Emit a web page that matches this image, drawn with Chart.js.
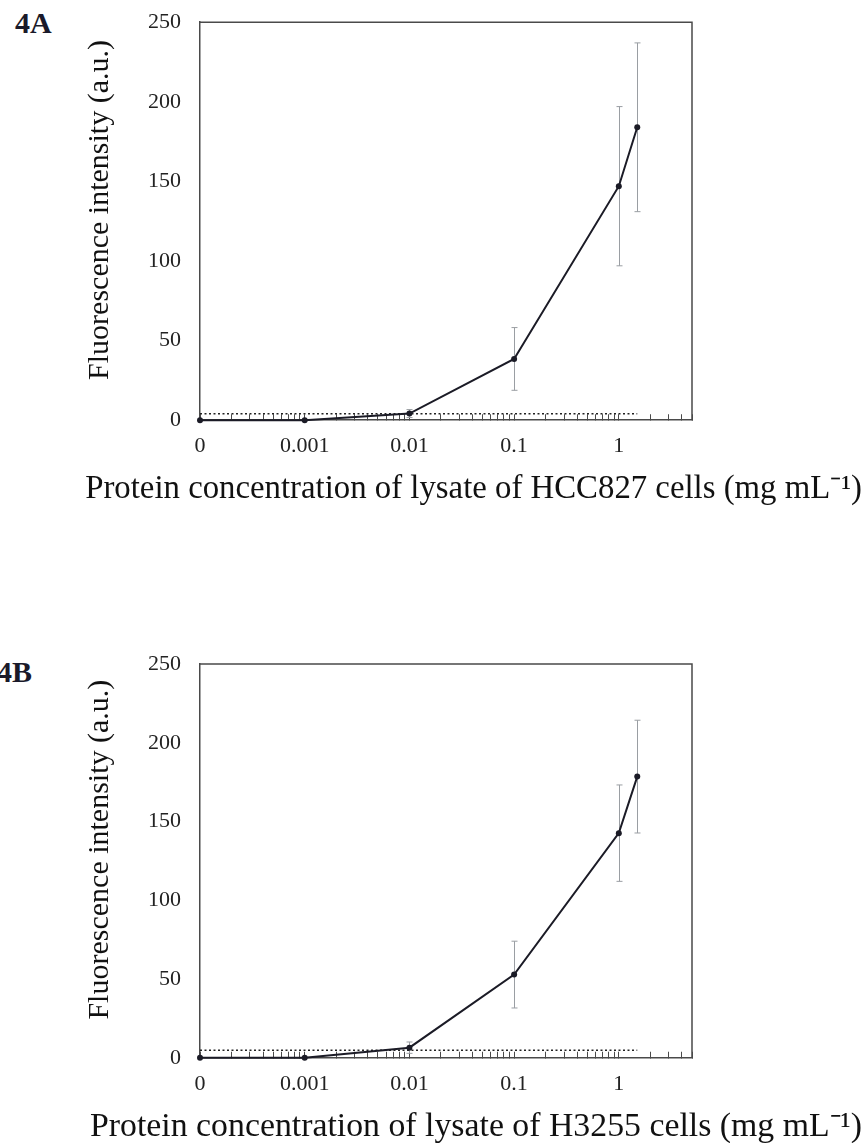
<!DOCTYPE html>
<html lang="en">
<head>
<meta charset="UTF-8">
<title>Fluorescence vs lysate concentration</title>
<script src="https://cdn.jsdelivr.net/npm/chart.js"></script>
<style>
    body {
        margin: 0;
        background: #fff;
        width: 864px;
        height: 1143px;
        position: relative;
        overflow: hidden;
        font-family: "Liberation Serif", serif;
    }
    canvas {
        position: absolute;
        left: 0;
    }
    #chartA { top: -10px; }
    #chartB { top: 590px; }
    .panel {
        position: absolute;
        font-weight: bold;
        font-size: 30px;
        line-height: 30px;
        color: #1a1a2a;
    }
</style>
</head>
<body>
<div class="panel" style="left:15px; top:8px;">4A</div>
<div class="panel" style="left:-3px; top:657px;">4B</div>
<canvas id="chartA" width="864" height="530"></canvas>
<canvas id="chartB" width="864" height="570"></canvas>

<script>
    // protein concentration (mg/mL); 0 sits at the left end of the log axis
    const concentrations = [0, 0.001, 0.01, 0.1, 1, 1.5];
    const meanA = [0, 0, 4.2, 38.5, 147, 184];
    const sdA = [0, 0, 2.5, 19.7, 50, 53];
    const limitA = 4;
    const meanB = [0, 0, 6.4, 52.8, 142.6, 178.5];
    const sdB = [0, 0, 3.6, 21.2, 30.6, 35.8];
    const limitB = 4.7;

    const xTickValues = [0.0001, 0.001, 0.01, 0.1, 1];
    const xTickLabels = ['0', '0.001', '0.01', '0.1', '1'];
    const X_MIN = 0.0001;
    const X_MAX = 5;

    // minor ticks 1..9 per decade, up to the axis end
    const xAllTicks = [];
    for (let e = -4; e <= 0; e++) {
        for (let m = 1; m <= 9; m++) {
            const v = m * Math.pow(10, e);
            if (v <= X_MAX * 1.0001) xAllTicks.push(v);
        }
    }

    const axisColor = '#4a4a4a';
    const lineColor = '#1b1b26';

    function tickLabel(v) {
        for (let i = 0; i < xTickValues.length; i++) {
            if (Math.abs(Math.log10(v) - Math.log10(xTickValues[i])) < 1e-6) return xTickLabels[i];
        }
        return '';
    }

    const errorBars = {
        id: 'errorBars',
        beforeDatasetsDraw(chart, args, opts) {
            const ctx = chart.ctx;
            const xs = chart.scales.x, ys = chart.scales.y;
            ctx.save();
            ctx.strokeStyle = '#9a9ea3';
            ctx.lineWidth = 1;
            opts.means.forEach((m, i) => {
                if (!opts.sds[i]) return;
                const c = concentrations[i] === 0 ? X_MIN : concentrations[i];
                const px = Math.round(xs.getPixelForValue(c)) + 0.5;
                const top = ys.getPixelForValue(m + opts.sds[i]);
                const bot = ys.getPixelForValue(Math.max(m - opts.sds[i], 0));
                ctx.beginPath();
                ctx.moveTo(px, top); ctx.lineTo(px, bot);
                ctx.moveTo(px - 3, top); ctx.lineTo(px + 3, top);
                ctx.moveTo(px - 3, bot); ctx.lineTo(px + 3, bot);
                ctx.stroke();
            });
            ctx.restore();
        },
        afterDraw(chart) {
            // top and right edges of the frame
            const a = chart.chartArea, ctx = chart.ctx;
            ctx.save();
            ctx.strokeStyle = axisColor;
            ctx.lineWidth = 1.5;
            ctx.beginPath();
            ctx.moveTo(a.left, a.top);
            ctx.lineTo(a.right, a.top);
            ctx.lineTo(a.right, a.bottom);
            ctx.stroke();
            ctx.restore();
        }
    };

    function makeChart(id, means, sds, limit, title, cfg) {
        const pts = concentrations.map((c, i) => ({ x: c === 0 ? X_MIN : c, y: means[i] }));
        return new Chart(document.getElementById(id), {
            type: 'line',
            data: {
                datasets: [{
                    data: pts,
                    borderColor: lineColor,
                    backgroundColor: lineColor,
                    borderWidth: 2,
                    pointRadius: 3,
                    pointBorderWidth: 0,
                    tension: 0,
                    clip: false
                }, {
                    data: [{ x: X_MIN, y: limit }, { x: concentrations[concentrations.length - 1], y: limit }],
                    borderColor: '#222',
                    borderWidth: 1.5,
                    borderDash: [2, 2.5],
                    pointRadius: 0
                }]
            },
            options: {
                responsive: false,
                animation: false,
                devicePixelRatio: 1,
                layout: { padding: { top: cfg.padTop, left: 0, right: 2, bottom: 0 } },
                plugins: {
                    legend: { display: false },
                    tooltip: { enabled: false },
                    title: {
                        display: true,
                        position: 'bottom',
                        align: 'end',
                        text: title,
                        color: '#111',
                        font: { family: 'Liberation Serif', size: cfg.titleSize, weight: 'normal', lineHeight: 1.2 },
                        padding: { top: 0, bottom: cfg.titleBottom }
                    },
                    errorBars: { means: means, sds: sds }
                },
                scales: {
                    x: {
                        type: 'logarithmic',
                        min: X_MIN,
                        max: X_MAX,
                        afterBuildTicks: s => { s.ticks = xAllTicks.map(v => ({ value: v })); },
                        afterFit: s => { s.height = 49.2; },
                        grid: {
                            drawOnChartArea: false,
                            drawTicks: true,
                            tickLength: -6,
                            color: axisColor,
                            lineWidth: 1
                        },
                        border: { display: true, color: axisColor, width: 1.5 },
                        ticks: {
                            autoSkip: false,
                            maxRotation: 0,
                            padding: 19,
                            color: '#222',
                            font: { family: 'Liberation Serif', size: 22 },
                            callback: v => tickLabel(v)
                        }
                    },
                    y: {
                        min: 0,
                        max: 250,
                        afterFit: s => { s.width = 200; },
                        grid: { display: false, drawTicks: false },
                        border: { display: true, color: axisColor, width: 1.5 },
                        ticks: {
                            stepSize: 50,
                            padding: 19,
                            color: '#222',
                            font: { family: 'Liberation Serif', size: 22 }
                        },
                        title: {
                            display: true,
                            text: '\u00A0\u00A0\u00A0Fluorescence intensity (a.u.)',
                            color: '#111',
                            font: { family: 'Liberation Serif', size: 30 },
                            padding: { top: 82, bottom: 0 }
                        }
                    },
                    y2: {
                        position: 'right',
                        display: true,
                        afterFit: s => { s.width = 170; },
                        grid: { display: false, drawTicks: false },
                        border: { display: false },
                        ticks: { display: false }
                    }
                }
            },
            plugins: [errorBars]
        });
    }

    makeChart('chartA', meanA, sdA, limitA,
        'Protein concentration of lysate of HCC827 cells (mg mL\u207B\u00B9)',
        { padTop: 0, titleBottom: 11.2, titleSize: 32.8 });
    makeChart('chartB', meanB, sdB, limitB,
        'Protein concentration of lysate of H3255 cells (mg mL\u207B\u00B9)',
        { padTop: 74, titleBottom: 12.5, titleSize: 33.8 });
</script>
</body>
</html>
